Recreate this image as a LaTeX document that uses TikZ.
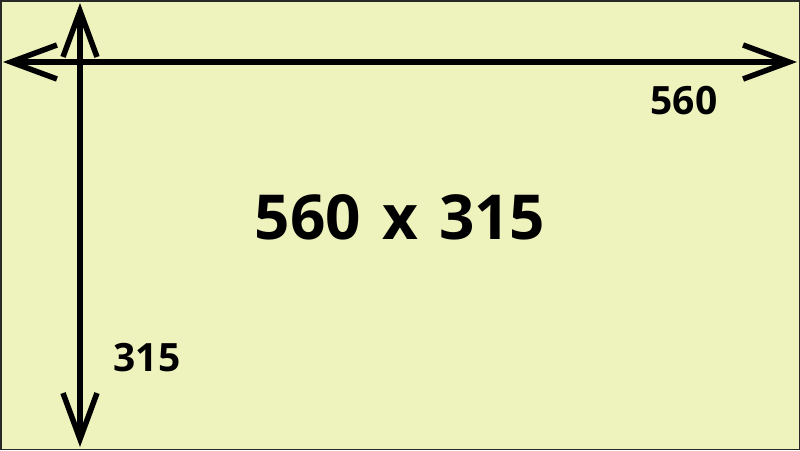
\documentclass[tikz,border=0pt]{standalone}
\usepackage{fontspec}
\setmainfont{Open Sans}
\usetikzlibrary{arrows.meta}
\definecolor{paper}{RGB}{238,242,188}
\definecolor{frame}{RGB}{40,40,40}
\tikzset{
	barb/.tip={Straight Barb[length=46pt,width=34pt]},
	dimline/.style={line width=5.5pt, barb-barb},
	lbl/.style={inner sep=0pt, font=\bfseries\fontsize{39}{39}\selectfont},
	biglbl/.style={inner sep=0pt, font=\bfseries\fontsize{62}{62}\selectfont}
}

\begin{document}
\begin{tikzpicture}[x=1pt,y=-1pt]
	\useasboundingbox (0,0) rectangle (800,450);
	\fill[paper] (0,0) rectangle (800,450);
	\draw[frame, line width=1.5pt] (0.75,0.75) rectangle (799.25,449.25);
	% ends of the two dimension lines
	\coordinate (wl) at (3,62);
	\coordinate (wr) at (797,62);
	\coordinate (ht) at (80,3);
	\coordinate (hb) at (80,447);
	\draw[dimline] (wl) -- (wr);
	\draw[dimline] (ht) -- (hb);
	% labels
	\node[lbl] (wlabel) at (684,101) {560};
	\node[lbl] (hlabel) at (147,358) {315};
	\node[biglbl] (size) at (400,217) {560 \kern5pt x\kern5pt{} 315};
\end{tikzpicture}
\end{document}
